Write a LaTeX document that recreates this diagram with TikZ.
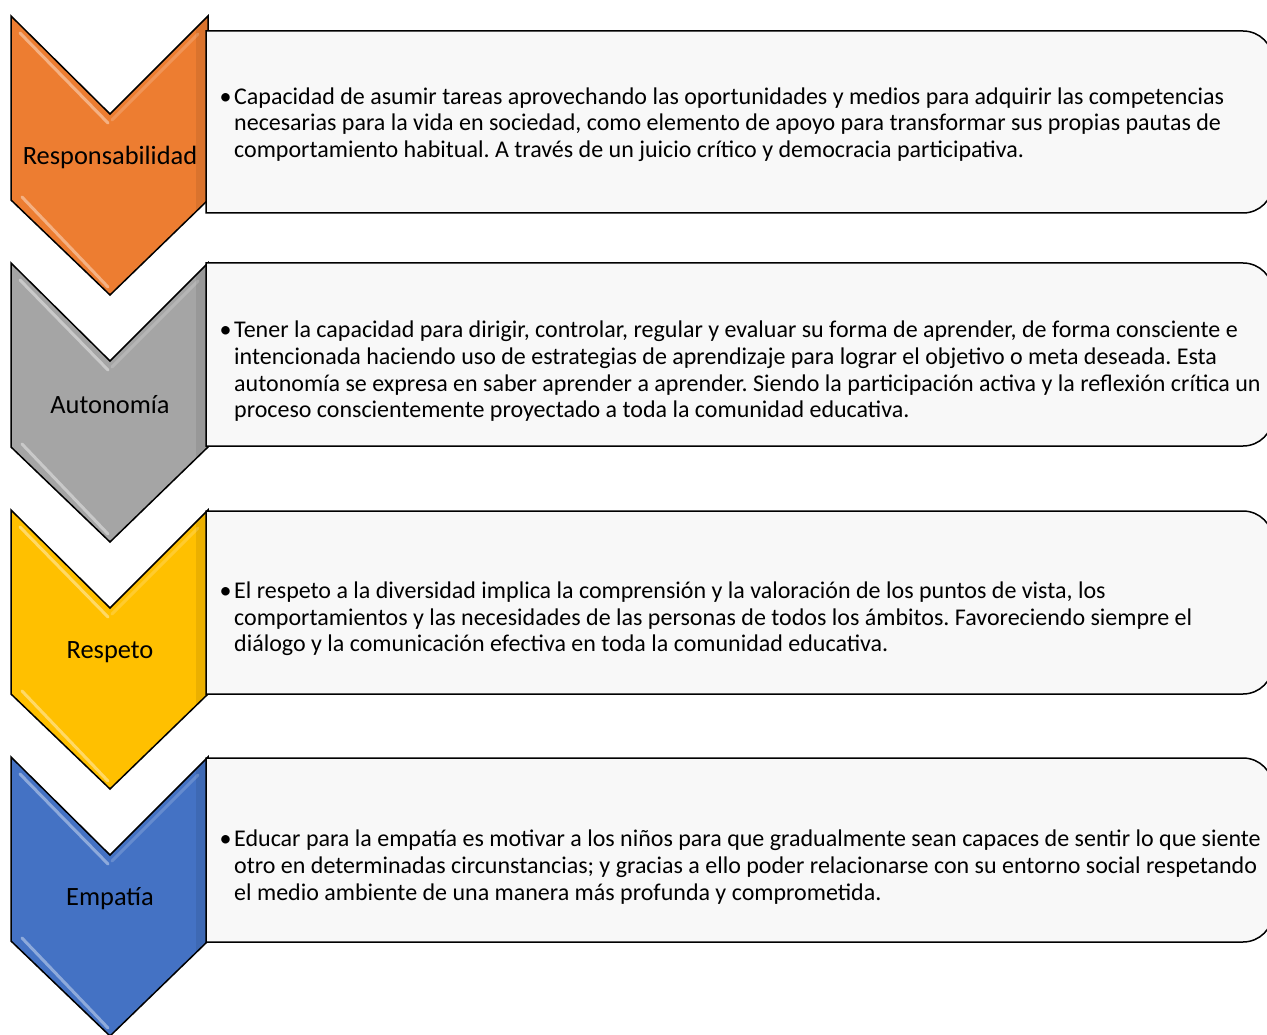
\documentclass[tikz,border=0pt]{standalone}
\usepackage{fontspec}
\setmainfont{Carlito}
\frenchspacing
\definecolor{corange}{HTML}{ED7D31}
\definecolor{cgray}{HTML}{A5A5A5}
\definecolor{cyellow}{HTML}{FFC000}
\definecolor{cblue}{HTML}{4472C4}
\definecolor{boxfill}{HTML}{F8F8F8}
\tikzset{
  chevshape/.style={draw=black, line width=1.5pt, line join=miter},
  bevel/.style={white, line width=3pt, opacity=0.4, line cap=round},
  softbevel/.style={white, line width=3pt, opacity=0.18, line cap=round},
  infobox/.style={draw=black, line width=1.5pt, fill=boxfill},
  lbl/.style={font=\fontsize{26.4}{30}\selectfont, inner sep=0pt, text=black},
  body/.style={font=\fontsize{24}{26.6}\selectfont, inner sep=0pt, align=left, anchor=west, text=black}
}
\newcommand{\mybul}{\llap{•\hspace{2.5pt}}}
\newcommand{\mychev}[3]{% top y, colour, name
  \fill[#2] (11,#1) -- (110,#1+98) -- (208,#1) -- (208,#1+184) -- (110,#1+279) -- (11,#1+184) -- cycle;
  \fill[black, opacity=0.08] (196,#1+12) -- (208,#1) -- (208,#1+184) -- (196,#1+196) -- cycle;
  \draw[bevel] (20,#1+17) -- (108,#1+107);
  \draw[bevel] (22,#1+181) -- (108,#1+271);
  \draw[softbevel] (198,#1+18) -- (112,#1+104);
  \draw[chevshape] (11,#1) -- (110,#1+98) -- (208,#1) -- (208,#1+184) -- (110,#1+279) -- (11,#1+184) -- cycle;
}
\newcommand{\mybox}[2]{% top y, bottom y
  \draw[infobox] (700,#1) [rounded corners=30pt] -- (1273,#1) -- (1273,#2) -- (700,#2) [sharp corners] -- (206,#2) -- (206,#1) -- cycle;
}
\begin{document}
\begin{tikzpicture}[x=1pt, y=-1pt]
\useasboundingbox (0,0) rectangle (1267,1035);
\fill[white] (0,0) rectangle (1267,1035);

\mychev{16}{corange}{c1}
\mychev{263}{cgray}{c2}
\mychev{510}{cyellow}{c3}
\mychev{757}{cblue}{c4}

\mybox{31}{213}
\mybox{263}{446}
\mybox{511}{694}
\mybox{758}{942}

\node[lbl] (l1) at (110,157) {Responsabilidad};
\node[lbl] (l2) at (110,405) {Autonomía};
\node[lbl] (l3) at (110,652) {Respeto};
\node[lbl] (l4) at (110,899) {Empatía};

\node[body] (t1) at (234,124.5) {\mybul Capacidad de asumir tareas aprovechando las oportunidades y medios para adquirir las competencias\\
necesarias para la vida en sociedad, como elemento de apoyo para transformar sus propias pautas de\\
comportamiento habitual. A través de un juicio crítico y democracia participativa.};

\node[body] (t2) at (234,371.5) {\mybul Tener la capacidad para dirigir, controlar, regular y evaluar su forma de aprender, de forma consciente e\\
intencionada haciendo uso de estrategias de aprendizaje para lograr el objetivo o meta deseada. Esta\\
autonomía se expresa en saber aprender a aprender. Siendo la participación activa y la reflexión crítica un\\
proceso conscientemente proyectado a toda la comunidad educativa.};

\node[body] (t3) at (234,619) {\mybul El respeto a la diversidad implica la comprensión y la valoración de los puntos de vista, los\\
comportamientos y las necesidades de las personas de todos los ámbitos. Favoreciendo siempre el\\
diálogo y la comunicación efectiva en toda la comunidad educativa.};

\node[body] (t4) at (234,867) {\mybul Educar para la empatía es motivar a los niños para que gradualmente sean capaces de sentir lo que siente\\
otro en determinadas circunstancias; y gracias a ello poder relacionarse con su entorno social respetando\\
el medio ambiente de una manera más profunda y comprometida.};
\end{tikzpicture}
\end{document}
